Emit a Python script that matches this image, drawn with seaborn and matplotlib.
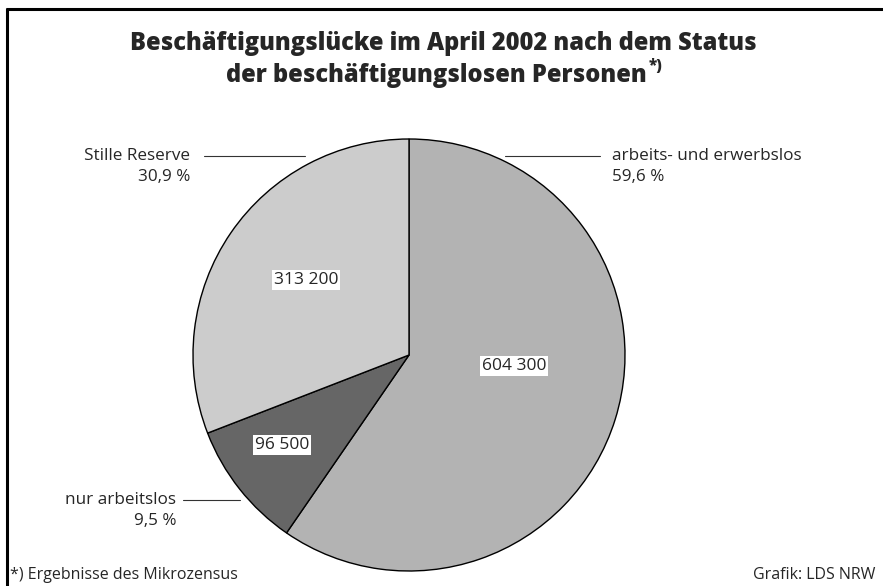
import matplotlib
matplotlib.use("Agg")
import matplotlib.pyplot as plt
import seaborn as sns

# data
categories = ["arbeits- und erwerbslos", "nur arbeitslos", "Stille Reserve"]
values = [604300, 96500, 313200]
shares = ["59,6 %", "9,5 %", "30,9 %"]
value_labels = ["604 300", "96 500", "313 200"]
colors = ["#b3b3b3", "#666666", "#cccccc"]

sns.set_theme(style="white")
plt.rcParams['font.family'] = ['Open Sans', 'DejaVu Sans']

W, H = 883, 586
fig = plt.figure(figsize=(W / 100, H / 100), dpi=100)
ax = fig.add_axes([0, 0, 1, 1])

# pie (y axis inverted -> counterclock=True draws clockwise on screen)
cx, cy, r = 409, 355, 216
ax.pie(values, colors=colors, startangle=-90, counterclock=True,
       center=(cx, cy), radius=r, frame=True,
       wedgeprops=dict(edgecolor='black', linewidth=1.0))
ax.set_xlim(0, W)
ax.set_ylim(H, 0)
ax.set_aspect('equal')
ax.axis('off')

# value labels in white boxes
val_pos = [(514, 366), (282, 445), (306, 280)]
for (x, y), lab in zip(val_pos, value_labels):
    ax.text(x, y, lab, ha='center', va='center', fontsize=12.5,
            bbox=dict(facecolor='white', edgecolor='none', pad=1.2))

# category labels with leader lines
lab_cfg = [
    (612, 156, 'left', (505, 600)),
    (176, 500, 'right', (183, 240)),
    (190, 156, 'right', (204, 305)),
]
for (tx, ty, ha, (x0, x1)), cat, sh in zip(lab_cfg, categories, shares):
    ax.text(tx, ty, cat, ha=ha, va='center', fontsize=12.3)
    ax.text(tx, ty + 21, sh, ha=ha, va='center', fontsize=12.3)
    ax.plot([x0, x1], [ty, ty], color='#333333', linewidth=0.8)

# title
tkw = dict(ha='center', va='center', fontsize=17, fontweight='heavy')
ax.text(443, 43, "Beschäftigungslücke im April 2002 nach dem Status", **tkw)
t2 = ax.text(436, 75, "der beschäftigungslosen Personen", **tkw)
fig.canvas.draw()
bb = t2.get_window_extent()
x_end = ax.transData.inverted().transform((bb.x1, bb.y1))[0]
ax.text(x_end + 2, 66, "*)", ha='left', va='center', fontsize=11, fontweight='heavy')

# footer
ax.text(10, 575, "*) Ergebnisse des Mikrozensus", ha='left', va='center', fontsize=11.5)
ax.text(875, 575, "Grafik: LDS NRW", ha='right', va='center', fontsize=11.5)

# frame lines (top and left)
ax.plot([6, W], [9, 9], color='black', linewidth=2.2, solid_capstyle='butt')
ax.plot([7, 7], [8, H], color='black', linewidth=2.2, solid_capstyle='butt')

fig.savefig("out.png", dpi=100)
